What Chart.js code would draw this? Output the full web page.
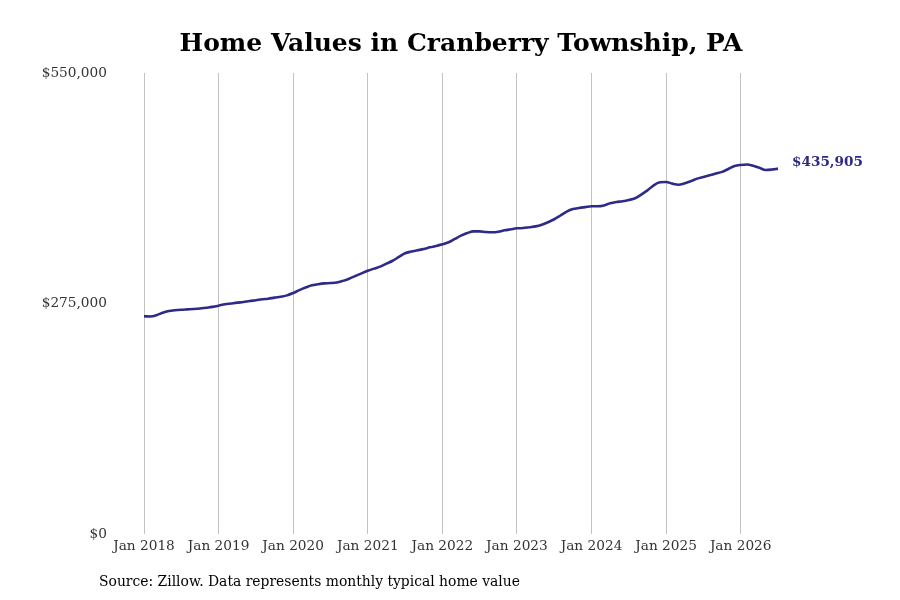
<!DOCTYPE html>
<html>
<head>
<meta charset="utf-8">
<title>Home Values in Cranberry Township, PA</title>
<script src="https://cdn.jsdelivr.net/npm/chart.js@4.4.1/dist/chart.umd.min.js"></script>
<style>
    html, body { margin: 0; padding: 0; background: #fff; }
    #wrap { width: 900px; height: 600px; position: relative; }
</style>
</head>
<body>
<div id="wrap"><canvas id="homeChart"></canvas></div>
<script>
// Datos: valor tipico mensual (Zillow), ene 2018 - jul 2026
const years = [2018, 2019, 2020, 2021, 2022, 2023, 2024, 2025, 2026];
const monthNames = ['Jan', 'Feb', 'Mar', 'Apr', 'May', 'Jun', 'Jul', 'Aug', 'Sep', 'Oct', 'Nov', 'Dec'];

const homeValues = [
    259700, 259500, 261000, 264000, 266000, 267000, 267600, 268000, 268400, 269000, 270000, 271000,
    272400, 274000, 275000, 276000, 276800, 278000, 278800, 280000, 280700, 282000, 283000, 284700,
    287500, 291000, 294000, 296700, 298000, 299000, 299400, 300000, 302000, 304600, 307800, 311000,
    314000, 316600, 319000, 322500, 326000, 330500, 335000, 337000, 338500, 340000, 342000, 343600,
    345600, 348000, 352000, 356000, 359000, 361000, 361000, 360300, 360000, 360700, 362300, 363500,
    364700, 365000, 366000, 367000, 369000, 372000, 375500, 380000, 384600, 387700, 389000, 390000,
    391000, 391000, 392000, 394500, 396000, 397000, 398500, 400500, 405000, 410000, 416000, 419600,
    420000, 418000, 416700, 418400, 421000, 424000, 426000, 428000, 430000, 432000, 435500, 439000,
    440300, 440800, 439400, 437000, 434200, 434800, 435905
];

const yTicks = [0, 275000, 550000];

const titleText = 'Home Values in Cranberry Township, PA';
const sourceText = 'Source: Zillow. Data represents monthly typical home value';

// etiquetas de mes para cada punto
const monthLabels = [];
years.forEach(function(y) {
    monthNames.forEach(function(m) {
        if (monthLabels.length < homeValues.length) monthLabels.push(m + ' ' + y);
    });
});

const lineColor = '#2e2a88';
const fmt = v => '$' + v.toLocaleString('en-US');

// Etiqueta del ultimo valor + fuente
const extrasPlugin = {
    id: 'extras',
    afterDatasetsDraw(chart) {
        const ctx = chart.ctx;
        const meta = chart.getDatasetMeta(0);
        const last = meta.data[meta.data.length - 1];
        ctx.save();
        ctx.font = 'bold 13.6px "DejaVu Serif"';
        ctx.fillStyle = lineColor;
        ctx.textAlign = 'left';
        ctx.textBaseline = 'middle';
        ctx.fillText(fmt(homeValues[homeValues.length - 1]), last.x + 14, last.y - 6);

        ctx.font = '13.9px "DejaVu Serif"';
        ctx.fillStyle = '#000';
        ctx.fillText(sourceText, 99, 582);
        ctx.restore();
    }
};

document.addEventListener('DOMContentLoaded', function() {
    const ctx = document.getElementById('homeChart').getContext('2d');
    new Chart(ctx, {
        type: 'line',
        data: {
            labels: monthLabels,
            datasets: [{
                data: homeValues,
                borderColor: lineColor,
                borderWidth: 2.6,
                pointRadius: 0,
                fill: false,
                cubicInterpolationMode: 'monotone'
            }]
        },
        options: {
            responsive: true,
            maintainAspectRatio: false,
            animation: false,
            layout: { padding: { left: 0, right: 122, top: 0, bottom: 40 } },
            plugins: {
                legend: { display: false },
                tooltip: { enabled: false },
                title: {
                    display: true,
                    text: titleText,
                    fullSize: false,
                    color: '#000',
                    font: { family: 'DejaVu Serif', size: 25, weight: 'bold' },
                    padding: { top: 29, bottom: 14 }
                }
            },
            scales: {
                x: {
                    grid: {
                        drawTicks: false,
                        color: c => (monthLabels[c.index] || '').startsWith('Jan') ? '#c2c2c2' : 'rgba(0,0,0,0)'
                    },
                    border: { display: false },
                    ticks: {
                        autoSkip: false,
                        maxRotation: 0,
                        padding: 4,
                        color: '#333',
                        font: { family: 'DejaVu Serif', size: 13.7 },
                        callback: function(v, i) {
                            return monthLabels[i].startsWith('Jan') ? monthLabels[i] : '';
                        }
                    },
                    afterFit: s => { s.height = 26; }
                },
                y: {
                    min: 0,
                    max: 550000,
                    grid: { display: false, drawTicks: false },
                    border: { display: false },
                    afterBuildTicks: s => { s.ticks = yTicks.map(v => ({ value: v })); },
                    ticks: {
                        padding: 37,
                        color: '#333',
                        font: { family: 'DejaVu Serif', size: 13.7 },
                        callback: v => fmt(v)
                    },
                    afterFit: s => { s.width = 144; }
                }
            }
        },
        plugins: [extrasPlugin]
    });
});
</script>
</body>
</html>
